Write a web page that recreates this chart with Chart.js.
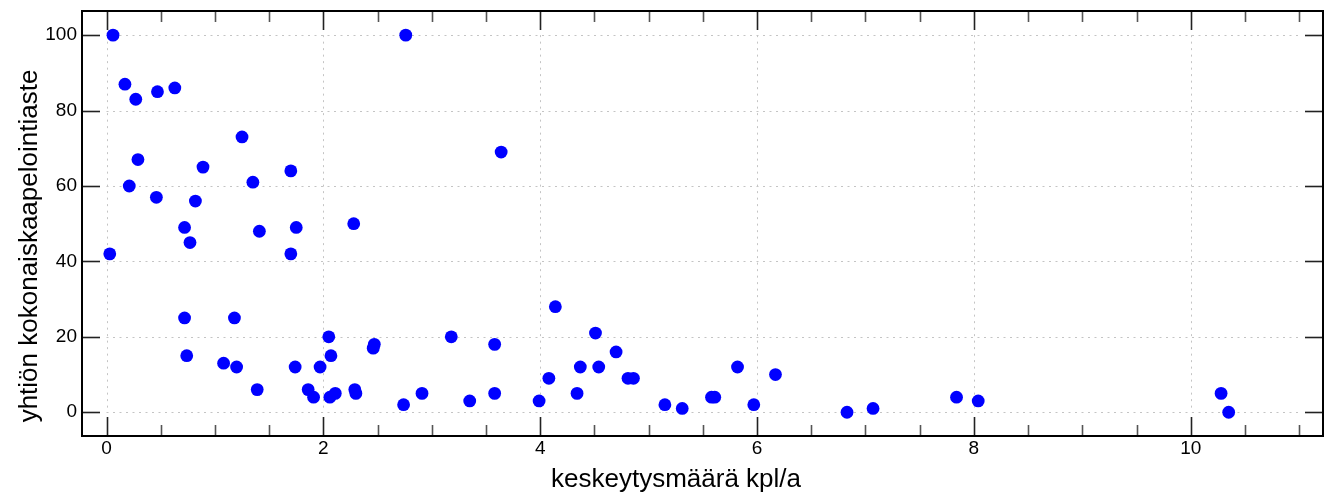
<!DOCTYPE html>
<html>
<head>
<meta charset="utf-8">
<script src="https://cdn.jsdelivr.net/npm/chart.js@4/dist/chart.umd.min.js"></script>
<style>
html,body{margin:0;padding:0;background:#fff;}
#wrap{width:1333px;height:495px;position:relative;}
</style>
</head>
<body>
<div id="wrap"><canvas id="c" width="1333" height="495"></canvas></div>
<script>
// keskeytysmäärä kpl/a
const xValues = [0.06,0.03,0.17,0.27,0.21,0.29,0.47,0.63,0.46,0.72,0.77,0.82,0.89,0.72,0.74,1.08,1.20,1.18,1.25,1.35,1.41,1.39,1.70,1.70,1.75,1.74,1.86,1.91,1.97,2.05,2.07,2.06,2.11,2.28,2.29,2.30,2.47,2.46,2.76,2.74,2.91,3.18,3.35,3.58,3.58,3.64,3.99,4.08,4.14,4.34,4.37,4.51,4.54,4.70,4.81,4.86,5.15,5.31,5.58,5.61,5.82,5.97,6.17,6.83,7.07,7.84,8.04,10.28,10.35];
// yhtiön kokonaiskaapelointiaste
const yValues = [100,42,87,83,60,67,85,86,57,49,45,56,65,25,15,13,12,25,73,61,48,6,64,42,49,12,6,4,12,20,15,4,5,50,6,5,18,17,100,2,5,20,3,18,5,69,3,9,28,5,12,21,12,16,9,9,2,1,4,4,12,2,10,0,1,4,3,5,0];
const xTicks = [0,2,4,6,8,10];
const xMinorTicks = [0.5,1,1.5,2.5,3,3.5,4.5,5,5.5,6.5,7,7.5,8.5,9,9.5,10.5,11];
const yTicks = [0,20,40,60,80,100];
const xTitle = 'keskeytysmäärä kpl/a';
const yTitle = 'yhtiön kokonaiskaapelointiaste';

const points = xValues.map((x,i)=>({x:x, y:yValues[i]}));
const FONT = '"Liberation Sans", Arial, sans-serif';

const framePlugin = {
  id:'frame',
  beforeDatasetsDraw(chart){
    const {ctx, chartArea:a, scales:{x, y}} = chart;
    ctx.save();
    // dotted grid
    ctx.strokeStyle = '#c4c4c4';
    ctx.lineWidth = 1;
    ctx.setLineDash([2,4.5]);
    const x0 = x.getPixelForValue(0);
    const yTop = y.getPixelForValue(100), yBot = y.getPixelForValue(0);
    yTicks.forEach(v=>{
      const py = Math.round(y.getPixelForValue(v))+0.5;
      ctx.beginPath(); ctx.moveTo(x0, py); ctx.lineTo(a.right-21, py); ctx.stroke();
    });
    xTicks.forEach(v=>{
      const px = Math.round(x.getPixelForValue(v))+0.5;
      ctx.beginPath(); ctx.moveTo(px, yTop); ctx.lineTo(px, yBot); ctx.stroke();
    });
    ctx.setLineDash([]);
    // tick marks (inward)
    ctx.lineWidth = 1.6;
    ctx.strokeStyle = '#222';
    xTicks.forEach(v=>{
      const px = Math.round(x.getPixelForValue(v))+0.5;
      ctx.beginPath(); ctx.moveTo(px, a.bottom); ctx.lineTo(px, a.bottom-19); ctx.stroke();
      ctx.beginPath(); ctx.moveTo(px, a.top); ctx.lineTo(px, a.top+19); ctx.stroke();
    });
    ctx.strokeStyle = '#555';
    xMinorTicks.forEach(v=>{
      const px = Math.round(x.getPixelForValue(v))+0.5;
      ctx.beginPath(); ctx.moveTo(px, a.bottom); ctx.lineTo(px, a.bottom-11); ctx.stroke();
      ctx.beginPath(); ctx.moveTo(px, a.top); ctx.lineTo(px, a.top+11); ctx.stroke();
    });
    ctx.strokeStyle = '#222';
    yTicks.forEach(v=>{
      const py = Math.round(y.getPixelForValue(v))+0.5;
      ctx.beginPath(); ctx.moveTo(a.left, py); ctx.lineTo(a.left+18, py); ctx.stroke();
      ctx.beginPath(); ctx.moveTo(a.right, py); ctx.lineTo(a.right-18, py); ctx.stroke();
    });
    // frame
    ctx.lineWidth = 2;
    ctx.strokeStyle = '#000';
    ctx.strokeRect(a.left, a.top, a.right-a.left, a.bottom-a.top);
    ctx.restore();
  },
  afterDraw(chart){
    const {ctx} = chart;
    ctx.save();
    ctx.fillStyle = '#000';
    ctx.font = '26px ' + FONT;
    ctx.textAlign = 'center';
    ctx.textBaseline = 'middle';
    ctx.fillText(xTitle, 676, 480);
    ctx.translate(37, 246);
    ctx.rotate(-Math.PI/2);
    ctx.textBaseline = 'alphabetic';
    ctx.fillText(yTitle, 0, 0);
    ctx.restore();
  }
};

new Chart(document.getElementById('c'), {
  type:'scatter',
  data:{datasets:[{
    data: points,
    backgroundColor:'#0000ff',
    borderWidth:0,
    pointRadius:6.4,
    pointHoverRadius:6.4
  }]},
  options:{
    responsive:false,
    animation:false,
    events:[],
    layout:{padding:{left:0,right:10,top:11,bottom:0}},
    plugins:{legend:{display:false},tooltip:{enabled:false}},
    scales:{
      x:{
        type:'linear', min:-0.226, max:11.22,
        afterBuildTicks(s){ s.ticks = xTicks.map(v=>({value:v})); },
        afterFit(s){ s.height = 59; s.paddingLeft = 0; s.paddingRight = 0; },
        grid:{display:false, drawTicks:false},
        border:{display:false},
        ticks:{color:'#000', font:{family:FONT, size:19}, padding:1, maxRotation:0},
        title:{display:false}
      },
      y:{
        type:'linear', min:-6.3, max:106.4,
        afterBuildTicks(s){ s.ticks = yTicks.map(v=>({value:v})); },
        afterFit(s){ s.width = 82; s.paddingTop = 0; s.paddingBottom = 0; },
        grid:{display:false, drawTicks:false},
        border:{display:false},
        ticks:{color:'#000', font:{family:FONT, size:19}, padding:5},
        title:{display:false}
      }
    }
  },
  plugins:[framePlugin]
});
</script>
</body>
</html>
